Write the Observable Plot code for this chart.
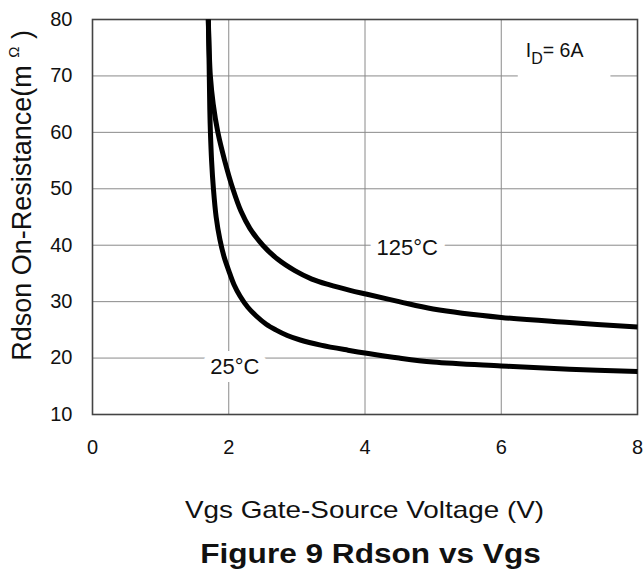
<!DOCTYPE html>
<html><head><meta charset="utf-8">
<script src="https://cdn.jsdelivr.net/npm/d3@7"></script>
<script src="https://cdn.jsdelivr.net/npm/@observablehq/plot@0.6"></script>
<style>
body{margin:0;background:#fff;font-family:"Liberation Sans",Arial,sans-serif;color:#111;}
#xl{margin-top:26px;margin-left:92px;width:545px;text-align:center;font-size:24px;line-height:28px;transform:scaleX(1.16);}
#tt{margin-top:15px;margin-left:98px;width:545px;text-align:center;font-size:27px;font-weight:bold;line-height:30px;transform:scaleX(1.17);}
</style></head><body>
<div id="chart"></div>
<div id="xl">Vgs Gate-Source Voltage (V)</div>
<div id="tt">Figure 9 Rdson vs Vgs</div>
<script>
const xTicks = [0, 2, 4, 6, 8];
const yTicks = [10, 20, 30, 40, 50, 60, 70, 80];

const vgs25 = [1.700, 1.712, 1.722, 1.731, 1.748, 1.775, 1.815, 1.870, 1.930, 2.000, 2.078, 2.165, 2.280, 2.400, 2.550, 2.690, 2.860, 3.050, 3.350, 3.750, 4.050, 4.500, 5.000, 6.000, 7.000, 8.000];
const rds25 = [80, 72, 64, 60, 55, 50, 45, 41, 38, 35.5, 33, 31, 29, 27.5, 26, 25, 24, 23.2, 22.3, 21.4, 20.8, 20.0, 19.3, 18.6, 18.0, 17.6];

const vgs125 = [1.700, 1.712, 1.730, 1.772, 1.840, 1.940, 2.060, 2.180, 2.310, 2.500, 2.720, 2.970, 3.220, 3.470, 3.780, 4.030, 4.500, 5.000, 6.000, 7.000, 8.000];
const rds125 = [80, 75, 70, 65, 60, 55, 50, 46, 43, 40, 37.5, 35.5, 34, 33, 32, 31.3, 30.0, 28.7, 27.2, 26.3, 25.5];

const curveLabels = ["25°C", "125°C"];
const curveLabelX = [2.09, 4.62];
const curveLabelY = [18.5, 39.6];

const condText = "ID= 6A";
const condX = [6.36];
const condY = [73.3];

const yLabelText = "Rdson On-Resistance(mΩ)";

const series = [
  ...vgs25.map((v, i) => ({vgs: v, rds: rds25[i], t: "25°C"})),
  ...vgs125.map((v, i) => ({vgs: v, rds: rds125[i], t: "125°C"}))
];
const lbls = curveLabels.map((t, i) => ({t, x: curveLabelX[i], y: curveLabelY[i]}));

const font = `"Liberation Sans", Arial, sans-serif`;

const chart = Plot.plot({
  width: 643,
  height: 470,
  marginTop: 19,
  marginBottom: 56,
  marginLeft: 92,
  marginRight: 6,
  style: {fontFamily: font, color: "#111", background: "#fff"},
  x: {domain: [0, 8]},
  y: {domain: [10, 80]},
  marks: [
    Plot.gridX(xTicks, {stroke: "#8a8a8a", strokeOpacity: 1, strokeWidth: 1}),
    Plot.gridY(yTicks, {stroke: "#8a8a8a", strokeOpacity: 1, strokeWidth: 1}),
    Plot.text(lbls, {x: "x", y: "y", text: "t", fontSize: 22, fill: "#111",
      stroke: "white", strokeWidth: 16, textAnchor: "middle", lineAnchor: "middle"}),
    Plot.text([condText], {x: condX, y: condY, text: d => d, fontSize: 19.5, fill: "#111",
      textAnchor: "start", lineAnchor: "bottom"}),
    Plot.frame({stroke: "#444", strokeWidth: 1.6}),
    Plot.axisX(xTicks, {tickSize: 0, tickPadding: 25, fontSize: 20, label: null, fill: "#111"}),
    Plot.axisY(yTicks, {tickSize: 0, tickPadding: 20, fontSize: 20, label: null, fill: "#111"}),
    Plot.line(series, {x: "vgs", y: "rds", z: "t", stroke: "#000", strokeWidth: 5,
      curve: "catmull-rom", strokeLinecap: "butt", strokeLinejoin: "round"}),
    Plot.text([yLabelText], {frameAnchor: "bottom-left", text: d => d, rotate: -90,
      textAnchor: "start", lineAnchor: "bottom", fontSize: 27, fill: "#111",
      dx: -61.3, dy: -53.7})
  ]
});

document.getElementById("chart").appendChild(chart);

// rich text: subscript D and small raised Ω; white box behind the condition label
d3.select(chart).selectAll("text").each(function () {
  const el = d3.select(this);
  const s = this.textContent;
  if (s === condText) {
    el.text("");
    el.append("tspan").text("I");
    el.append("tspan").attr("font-size", 16).attr("dy", 6.7).text("D");
    el.append("tspan").attr("dy", -6.7).text("= 6A");
    const b = this.getBBox();
    const r = document.createElementNS("http://www.w3.org/2000/svg", "rect");
    r.setAttribute("x", b.x - 8);
    r.setAttribute("y", b.y - 6);
    r.setAttribute("width", b.width + 35);
    r.setAttribute("height", b.height + 16);
    r.setAttribute("fill", "white");
    r.setAttribute("transform", this.getAttribute("transform") || "");
    this.parentNode.insertBefore(r, this);
  } else if (s === yLabelText) {
    el.text("");
    el.append("tspan").text("Rdson On-Resistance(m ");
    el.append("tspan").attr("font-size", 15).attr("dy", -12).text("Ω");
    el.append("tspan").attr("dy", 12).text(" )");
  }
});
</script>
</body></html>
